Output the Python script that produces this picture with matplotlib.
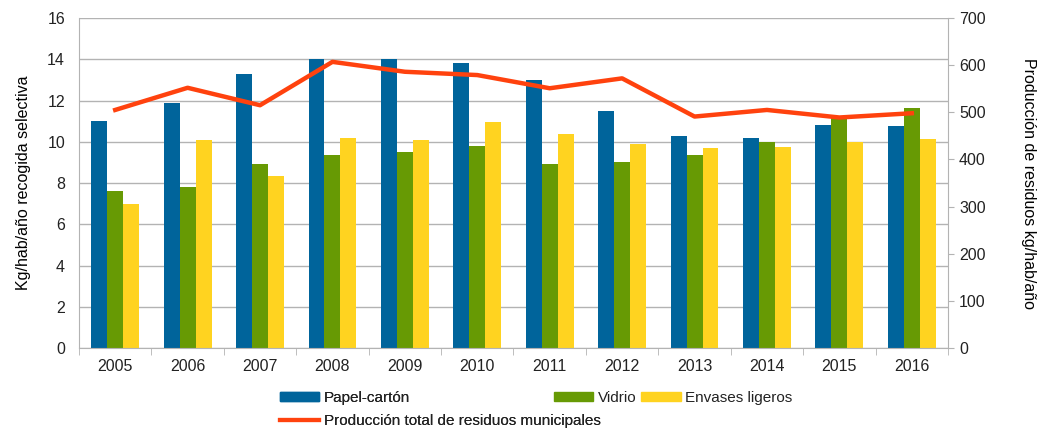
import matplotlib
matplotlib.use('Agg')

import numpy as np
import matplotlib.pyplot as plt
from matplotlib.patches import Patch
from matplotlib.lines import Line2D

plt.rcParams['font.family'] = ['Liberation Sans', 'DejaVu Sans']
plt.rcParams['text.color'] = '#222222'
plt.rcParams['xtick.labelcolor'] = '#222222'
plt.rcParams['ytick.labelcolor'] = '#222222'

years = ['2005', '2006', '2007', '2008', '2009', '2010',
         '2011', '2012', '2013', '2014', '2015', '2016']
papel = [11.0, 11.9, 13.3, 14.0, 14.0, 13.8, 13.0, 11.5, 10.3, 10.2, 10.8, 10.75]
vidrio = [7.6, 7.8, 8.9, 9.35, 9.5, 9.8, 8.9, 9.0, 9.35, 10.0, 11.2, 11.65]
envases = [7.0, 10.1, 8.35, 10.2, 10.1, 10.95, 10.4, 9.9, 9.7, 9.77, 9.97, 10.15]
produccion = [505, 552, 515, 607, 586, 579, 551, 572, 491, 505, 489, 498]

c_papel = '#00649b'
c_vidrio = '#679a04'
c_envases = '#ffd320'
c_prod = '#ff420e'
grey = '#b3b3b3'

fig = plt.figure(figsize=(10.38, 4.32), dpi=100)
ax = fig.add_axes([0.0761, 0.1944, 0.8372, 0.7639])

x = np.arange(len(years))
w = 0.22
ax.bar(x - w, papel, w, color=c_papel, zorder=2)
ax.bar(x, vidrio, w, color=c_vidrio, zorder=2)
ax.bar(x + w, envases, w, color=c_envases, zorder=2)

ax.set_xlim(-0.5, len(years) - 0.5)
ax.set_ylim(0, 16)
ax.set_yticks(range(0, 17, 2))
ax.yaxis.grid(True, color=grey, lw=1)
ax.set_axisbelow(True)
ax.set_xticks(x)
ax.set_xticklabels(years)
ax.set_xticks(np.arange(-0.5, len(years), 1), minor=True)
ax.tick_params(axis='x', which='major', length=0, pad=8, labelsize=11.5)
ax.tick_params(axis='x', which='minor', length=5, color=grey)
ax.tick_params(axis='y', length=0, pad=10, labelsize=11.5)
for s in ['top', 'right']:
    ax.spines[s].set_visible(False)
for s in ['left', 'bottom']:
    ax.spines[s].set_color(grey)
ax.set_ylabel('Kg/hab/año recogida selectiva', fontsize=11.5, labelpad=12)

ax2 = ax.twinx()
ax2.plot(x, produccion, color=c_prod, lw=3.2, zorder=3)
ax2.set_ylim(0, 700)
ax2.set_yticks(range(0, 701, 100))
ax2.tick_params(axis='y', length=4, color=grey, pad=4, labelsize=11.5)
for s in ['top', 'left', 'bottom']:
    ax2.spines[s].set_visible(False)
ax2.spines['right'].set_color(grey)
ax2.set_ylabel('Producción de residuos kg/hab/año', fontsize=11.5,
               rotation=270, labelpad=36)

h1 = [Patch(color=c_papel), Line2D([], [], color=c_prod, lw=3)]
leg1 = fig.legend(h1, ['Papel-cartón', 'Producción total de residuos municipales'],
                  loc='upper left', bbox_to_anchor=(0.262, 0.112), frameon=False,
                  fontsize=11, handlelength=2.6, handleheight=0.5,
                  handletextpad=0.3, labelspacing=0.55, borderpad=0)
h2 = [Patch(color=c_vidrio), Patch(color=c_envases)]
fig.legend(h2, ['Vidrio', 'Envases ligeros'], ncol=2,
           loc='upper left', bbox_to_anchor=(0.526, 0.112), frameon=False,
           fontsize=11, handlelength=2.6, handleheight=0.5,
           handletextpad=0.3, columnspacing=0.3, borderpad=0)
fig.add_artist(leg1)

plt.savefig('out.png', dpi=100)
plt.close(fig)
